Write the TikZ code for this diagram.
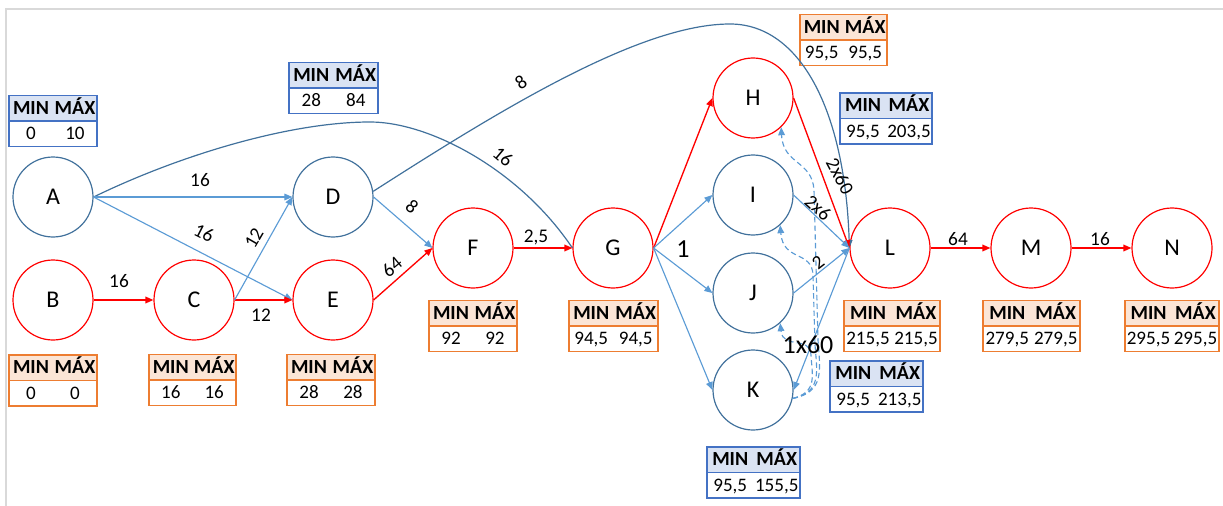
\documentclass[tikz,border=0pt]{standalone}
\usepackage{fontspec}
\setmainfont{Carlito}
\usetikzlibrary{arrows.meta,shapes.multipart}
\definecolor{critred}{HTML}{FF0000}
\definecolor{evblue}{HTML}{41719C}
\definecolor{linkblue}{HTML}{5B9BD5}
\definecolor{orgline}{HTML}{ED7D31}
\definecolor{orgfill}{HTML}{FBE5D6}
\definecolor{tabblue}{HTML}{4472C4}
\definecolor{tabfill}{HTML}{DAE3F3}
\definecolor{framegray}{HTML}{D9D9D9}

% header and value rows of a MIN/MAX table, split into two equal columns
\newcommand\hdrrow[1]{\noindent\rule[-4.6pt]{0pt}{18pt}%
  \makebox[0.5\dimexpr#1\relax]{\bfseries MIN}%
  \makebox[0.5\dimexpr#1\relax]{\bfseries MÁX}}
\newcommand\valrow[3]{\noindent\rule[-4.6pt]{0pt}{18pt}%
  \fontsize{14.3}{17}\selectfont
  \makebox[0.5\dimexpr#1\relax]{#2}%
  \makebox[0.5\dimexpr#1\relax]{#3}}
% \timetab{name}{style}{width}{position}{min}{max}
\newcommand\timetab[6]{%
  \node[#2, text width=#3] (#1) at (#4)
    {\hdrrow{#3}\nodepart{two}\valrow{#3}{#5}{#6}};}

\begin{document}
\begin{tikzpicture}[x=0.75pt, y=-0.75pt,
  tip/.style={-{Triangle[length=6pt,width=5pt]}},
  ev/.style={circle, draw=evblue, line width=0.9pt, minimum size=60pt,
    inner sep=0pt, font=\fontsize{18}{21}\selectfont},
  evcrit/.style={ev, draw=critred},
  act/.style={draw=linkblue, line width=0.85pt, tip},
  crit/.style={draw=critred, line width=1pt, tip},
  arc/.style={draw=evblue, line width=0.9pt},
  dep/.style={draw=linkblue, line width=0.85pt, dash pattern=on 4pt off 2.5pt, tip},
  lbl/.style={font=\fontsize{14.5}{17}\selectfont, inner sep=0pt},
  biglbl/.style={font=\fontsize{19.5}{22}\selectfont, inner sep=0pt},
  tab/.style={rectangle split, rectangle split parts=2, line width=1.1pt,
    inner xsep=0pt, inner ysep=0pt, align=center,
    font=\fontsize{15}{18}\selectfont},
  tabcrit/.style={tab, draw=orgline, rectangle split part fill={orgfill,white}},
  tabfree/.style={tab, draw=tabblue, rectangle split part fill={tabfill,white}}]

\useasboundingbox (0,0) rectangle (1223,506);
\draw[framegray, line width=1.5pt] (6,506) -- (6,9) -- (1223,9);

% events
\node[ev]     (A) at (53,197)  {A};
\node[ev]     (D) at (333,197) {D};
\node[evcrit] (B) at (53,300)  {B};
\node[evcrit] (C) at (194,300) {C};
\node[evcrit] (E) at (333,300) {E};
\node[evcrit] (F) at (473,248) {F};
\node[evcrit] (G) at (613,248) {G};
\node[evcrit] (H) at (753,98)  {H};
\node[ev]     (I) at (753,195) {I};
\node[ev]     (J) at (753,293) {J};
\node[ev]     (K) at (753,390) {K};
\node[evcrit] (L) at (890,248) {L};
\node[evcrit] (M) at (1031,248) {M};
\node[evcrit] (N) at (1172,248) {N};

% MIN / MAX tables
\timetab{tA}{tabfree}{66pt}{53,121}{0}{10}
\timetab{tD}{tabfree}{66.75pt}{333.5,88}{28}{84}
\timetab{tB}{tabcrit}{66pt}{53,380.5}{0}{0}
\timetab{tC}{tabcrit}{65.25pt}{192.5,380}{16}{16}
\timetab{tE}{tabcrit}{66pt}{331,380}{28}{28}
\timetab{tF}{tabcrit}{66pt}{473,326}{92}{92}
\timetab{tG}{tabcrit}{66.75pt}{613.5,326}{94,5}{94,5}
\timetab{tH}{tabcrit}{65.25pt}{843.5,40}{95,5}{95,5}
\timetab{tI}{tabfree}{69pt}{886,118.5}{95,5}{203,5}
\timetab{tJ}{tabfree}{69.75pt}{876.5,386.5}{95,5}{213,5}
\timetab{tK}{tabfree}{69.75pt}{753.5,472.5}{95,5}{155,5}
\timetab{tL}{tabcrit}{72pt}{892,326}{215,5}{215,5}
\timetab{tM}{tabcrit}{72.75pt}{1031.5,326}{279,5}{279,5}
\timetab{tN}{tabcrit}{70.5pt}{1172,326}{295,5}{295,5}

% long arcs
\draw[arc] (A.east) .. controls (180,155) and (290,122) .. (370,122)
  .. controls (430,122) and (520,170) .. (G.west);
\draw[arc, tip] (D.8) .. controls (500,110) and (640,24) .. (730,24)
  .. controls (800,24) and (845,110) .. (L.west);

% activities
\draw[act]  (A.east) -- (D.west);
\draw[act]  (A.east) -- (E.west);
\draw[crit] (B.east) -- (C.west);
\draw[crit] (C.east) -- (E.west);
\draw[act]  (C.east) -- (D.west);
\draw[act]  (D.east) -- (F.west);
\draw[crit] (E.east) -- (F.west);
\draw[crit] (F.east) -- (G.west);
\draw[crit] (G.east) -- (H.west);
\draw[act]  (G.east) -- (I.west);
\draw[act]  (G.east) -- (J.west);
\draw[act]  (G.east) -- (K.west);
\draw[crit] (H.east) -- (L.west);
\draw[act]  (I.east) -- (L.west);
\draw[act]  (J.east) -- (L.west);
\draw[act, {Triangle[length=6pt,width=5pt]}-] (K.east) -- (L.west);
\draw[crit] (L.east) -- (M.west);
\draw[crit] (M.east) -- (N.west);

% dashed dependencies out of K
\draw[dep] (K.-12) .. controls (825,392) and (820,370) .. (818,340)
  -- (814,190) .. controls (812,160) and (783,165) .. (H.-46);
\draw[dep] (K.-12) .. controls (822,392) and (817,372) .. (815,345)
  -- (813,275) .. controls (812,250) and (783,262) .. (I.-48);
\draw[dep] (K.-12) .. controls (818,392) and (812,375) .. (811,355)
  .. controls (810,335) and (783,350) .. (J.-48);

% durations
\node[lbl] (lAD) at (200,180) {16};
\node[lbl, rotate=-27] (lAE) at (204,233) {16};
\node[lbl, rotate=60] (lCD) at (254,238) {12};
\node[lbl] (lBC) at (119,281) {16};
\node[lbl] (lCE) at (261,315) {12};
\node[lbl, rotate=-40] (lDF) at (412,207) {8};
\node[lbl, rotate=40] (lEF) at (392,267) {64};
\node[lbl] (lFG) at (536,237) {2,5};
\node[lbl, rotate=-40] (lAG) at (503,157) {16};
\node[lbl, rotate=33] (lDL) at (521,82) {8};
\node[biglbl] (lG) at (683,249) {1};
\node[lbl, rotate=-62] (lHL) at (840,176) {2x60};
\node[lbl, rotate=-42] (lIL) at (818,208) {2x6};
\node[lbl, rotate=38] (lJL) at (818,263) {2};
\node[biglbl] (lK) at (808,345) {1x60};
\node[lbl] (lLM) at (958,239) {64};
\node[lbl] (lMN) at (1100,239) {16};
\end{tikzpicture}
\end{document}
